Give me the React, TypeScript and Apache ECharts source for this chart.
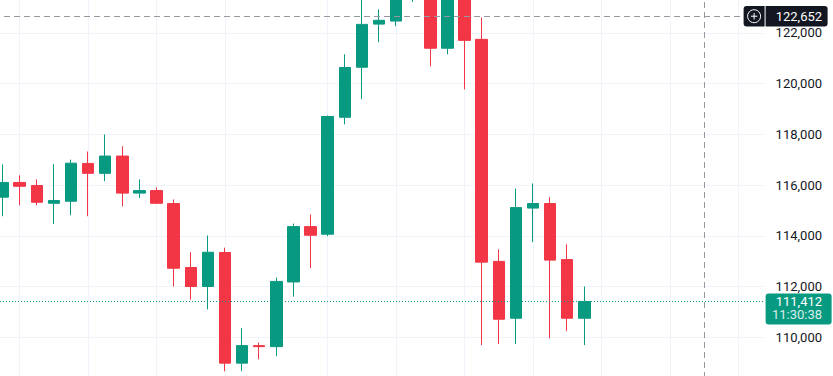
import React, { useEffect, useRef } from "react";
import * as echarts from "echarts";

// Category slots (35 candles drawn + empty future slots)
const periods = [
  "P01", "P02", "P03", "P04", "P05", "P06", "P07", "P08", "P09", "P10",
  "P11", "P12", "P13", "P14", "P15", "P16", "P17", "P18", "P19", "P20",
  "P21", "P22", "P23", "P24", "P25", "P26", "P27", "P28", "P29", "P30",
  "P31", "P32", "P33", "P34", "P35", "P36", "P37", "P38", "P39", "P40",
  "P41", "P42", "P43", "P44", "P45",
];

const opens = [
  115520, 116100, 115980, 115280, 115360, 116850, 116460, 117140, 115680, 115780,
  115270, 112750, 112000, 113340, 108980, 109670, 109630, 112180, 114360, 114060,
  118670, 120640, 122340, 122460, 123500, 124000, 121390, 123700, 121740, 112990,
  110750, 115090, 115270, 113060, 110750,
];
const closes = [
  116100, 115950, 115320, 115390, 116860, 116460, 117140, 115680, 115780, 115280,
  112720, 112000, 113350, 108980, 109670, 109630, 112200, 114360, 114020, 118700,
  120630, 122330, 122490, 123600, 124000, 121390, 123700, 121700, 112960, 110710,
  115110, 115270, 113040, 110750, 111412,
];
const lows = [
  114770, 115200, 115200, 114460, 114810, 114770, 116150, 115160, 115490, 115260,
  112000, 111480, 111100, 108660, 108660, 109130, 109250, 111600, 112720, 113980,
  118390, 119380, 121630, 122260, 123210, 120680, 121150, 119770, 109690, 109730,
  109730, 113750, 109960, 110240, 109690,
];
const highs = [
  116810, 116380, 116220, 116820, 117000, 117320, 117990, 117530, 116220, 115900,
  115430, 113350, 114010, 113530, 110360, 109790, 112350, 114480, 114840, 118740,
  121150, 123300, 122920, 123900, 124300, 124300, 124000, 123900, 122600, 113460,
  115860, 116060, 115520, 113660, 112000,
];

const priceTicks = [108000, 110000, 112000, 114000, 116000, 118000, 120000, 122000, 124000];
const gridPeriods = ["P02", "P06", "P10", "P14", "P20", "P24", "P28", "P32", "P36", "P40", "P44"];
const crosshairPeriod = "P42";
const crosshairPrice = 122652;
const lastPrice = 111412;
const lastPriceText = "111,412";
const countdownText = "11:30:38";
const crosshairText = "122,652";

const UP = "#089981";
const DOWN = "#f23645";
const FONT = "Roboto, 'Noto Sans', sans-serif";

// the chart canvas is shifted so that the plot starts slightly outside the visible page
const OFF_X = 5.6;
const OFF_Y = 18.4;
const INNER_W = 833 + OFF_X;
const INNER_H = 405.9;

export default function App() {
  const ref = useRef<HTMLDivElement>(null);

  useEffect(() => {
    document.body.style.margin = "0";
    const chart = echarts.init(ref.current!, null, { renderer: "svg" });
    const ohlc = opens.map((o, i) => [o, closes[i], lows[i], highs[i]]);

    chart.setOption({
      animation: false,
      grid: { left: 0, right: 69, top: 0, bottom: 0, containLabel: false, outerBoundsMode: "none" },
      xAxis: {
        type: "category",
        data: periods,
        boundaryGap: true,
        axisLine: { show: false },
        axisTick: { show: false },
        axisLabel: { show: false },
        splitLine: { show: false },
      },
      yAxis: {
        type: "value",
        position: "right",
        min: priceTicks[0],
        max: priceTicks[priceTicks.length - 1],
        interval: 2000,
        axisLine: { show: false },
        axisTick: { show: false },
        splitLine: { show: true, lineStyle: { color: "#f0f3fa", width: 1 } },
        axisLabel: {
          align: "right",
          margin: 58,
          color: "#131722",
          fontSize: 13,
          fontFamily: FONT,
          showMinLabel: false,
          showMaxLabel: false,
          formatter: (v: number) => v.toLocaleString("en-US"),
        },
      },
      series: [
        {
          type: "line",
          data: periods.map(() => null),
          z: 1,
          silent: true,
          showSymbol: false,
          lineStyle: { opacity: 0 },
          markLine: {
            silent: true,
            z: 1,
            symbol: ["none", "none"],
            label: { show: false },
            lineStyle: { color: "#f0f3fa", width: 1, type: "solid" },
            data: gridPeriods.map((p) => ({ xAxis: p })),
          },
        },
        {
          type: "candlestick",
          data: ohlc,
          z: 3,
          barWidth: 12,
          itemStyle: {
            color: UP,
            color0: DOWN,
            borderColor: UP,
            borderColor0: DOWN,
            borderWidth: 1,
          },
          markLine: {
            silent: true,
            symbol: ["none", "none"],
            label: { show: false },
            data: [
              { yAxis: crosshairPrice, lineStyle: { color: "#9598a1", width: 1, type: [6, 4] } },
              { xAxis: crosshairPeriod, lineStyle: { color: "#9598a1", width: 1, type: [6, 4] } },
              { yAxis: lastPrice, lineStyle: { color: UP, width: 1, type: [1, 2] } },
            ],
          },
        },
      ],
    });

    const yC = chart.convertToPixel({ yAxisIndex: 0 }, crosshairPrice) as number;
    const yL = chart.convertToPixel({ yAxisIndex: 0 }, lastPrice) as number;
    const X = (x: number) => x + OFF_X;

    chart.setOption({
      graphic: [
        {
          type: "rect",
          z: 100,
          shape: { x: X(744), y: yC - 10.3, width: 21, height: 20.5, r: [3, 0, 0, 3] },
          style: { fill: "#131722" },
        },
        {
          type: "circle",
          z: 101,
          shape: { cx: X(754.5), cy: yC, r: 6.5 },
          style: { fill: "none", stroke: "#ffffff", lineWidth: 1 },
        },
        {
          type: "line",
          z: 101,
          shape: { x1: X(751.3), y1: yC, x2: X(757.7), y2: yC },
          style: { stroke: "#ffffff", lineWidth: 1 },
        },
        {
          type: "line",
          z: 101,
          shape: { x1: X(754.5), y1: yC - 3.2, x2: X(754.5), y2: yC + 3.2 },
          style: { stroke: "#ffffff", lineWidth: 1 },
        },
        {
          type: "rect",
          z: 100,
          shape: { x: X(766), y: yC - 10.3, width: 62, height: 20.5, r: [0, 3, 3, 0] },
          style: { fill: "#131722" },
        },
        {
          type: "text",
          z: 102,
          x: X(822.5),
          y: yC,
          style: {
            text: crosshairText,
            fill: "#ffffff",
            font: `13px ${FONT}`,
            align: "right",
            verticalAlign: "middle",
          },
        },
        {
          type: "rect",
          z: 100,
          shape: { x: X(766), y: yL - 7.8, width: 66, height: 30.8, r: [3, 3, 3, 3] },
          style: { fill: UP },
        },
        {
          type: "text",
          z: 102,
          x: X(822.5),
          y: yL - 6.7,
          style: {
            text: `{p|${lastPriceText}}\n{t|${countdownText}}`,
            align: "right",
            verticalAlign: "top",
            rich: {
              p: { fill: "#ffffff", fontSize: 13, fontFamily: FONT, lineHeight: 13.4, align: "right" },
              t: { fill: "rgba(255,255,255,0.85)", fontSize: 13, fontFamily: FONT, lineHeight: 13.4, align: "right" },
            },
          },
        },
      ],
    });

    return () => chart.dispose();
  }, []);

  return (
    <div style={{ position: "relative", width: 833, height: 376, overflow: "hidden", background: "#ffffff" }}>
      <div
        ref={ref}
        style={{ position: "absolute", left: -OFF_X, top: -OFF_Y, width: INNER_W, height: INNER_H }}
      />
    </div>
  );
}
